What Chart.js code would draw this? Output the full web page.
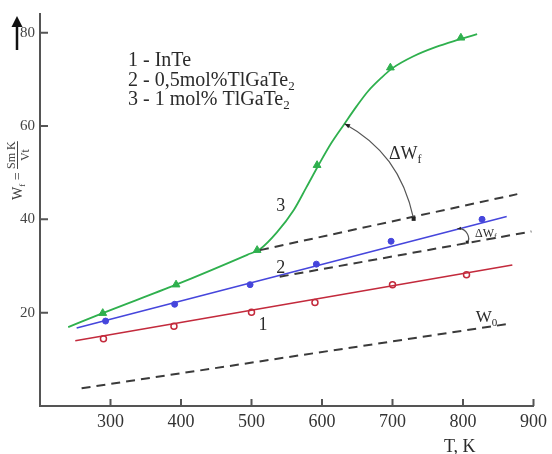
<!DOCTYPE html>
<html><head><meta charset="utf-8">
<script src="https://cdn.jsdelivr.net/npm/chart.js@4/dist/chart.umd.min.js"></script>
<style>html,body{margin:0;padding:0;background:#fff}</style>
</head><body>
<canvas id="c" width="552" height="454"></canvas>
<script>
// ---- data ----
const xTicks = [300, 400, 500, 600, 700, 800, 900];
const yTicks = [20, 40, 60, 80];

// 1 - InTe (measured points and straight fit line)
const inteT = [290, 390, 500, 590, 700, 805];
const inteW = [14.4, 17.1, 20.1, 22.2, 26.0, 28.1];
const inteFitT = [250, 870];
const inteFitW = [14.0, 30.2];

// 2 - 0,5 mol% TlGaTe2
const tl05T = [293, 391, 498, 592, 698, 827];
const tl05W = [18.2, 21.8, 26.0, 30.4, 35.3, 40.0];
const tl05FitT = [252, 862];
const tl05FitW = [16.7, 40.6];

// 3 - 1 mol% TlGaTe2
const tl1T = [289, 393, 508, 593, 697, 797];
const tl1W = [19.9, 26.0, 33.4, 51.6, 72.5, 78.9];
const tl1CurveT = [240, 289, 393, 494, 512, 536, 560, 578, 595, 613, 632, 649, 665, 684, 700, 729, 761, 796, 820];
const tl1CurveW = [16.9, 19.9, 26.0, 32.4, 33.6, 37.2, 42.0, 46.9, 51.6, 56.3, 60.5, 64.2, 67.4, 70.3, 72.4, 74.9, 76.9, 78.6, 79.7];

// dashed reference lines
const ext3T = [512, 877];
const ext3W = [33.4, 45.4];
const ext2T = [540, 897];
const ext2W = [27.7, 37.4];
const w0T = [259, 869];
const w0W = [3.8, 17.7];

const pts = (xs, ys) => xs.map((x, i) => ({ x: x, y: ys[i] }));

const GREEN = '#2fb04e', BLUE = '#4646dc', RED = '#c32a3c', DASH = '#3a3a3a';
const SERIF = "'Liberation Serif', 'DejaVu Serif', serif";

function dashed(xs, ys) {
  return { data: pts(xs, ys), showLine: true, borderColor: DASH, borderWidth: 2,
    borderDash: [9, 6], pointRadius: 0, fill: false };
}

function textSub(ctx, x, y, parts, size) {
  let cx = x;
  for (const [t, sub] of parts) {
    ctx.font = (sub ? Math.round(size * 0.65) : size) + 'px ' + SERIF;
    ctx.fillText(t, cx, sub ? y + size * 0.22 : y);
    cx += ctx.measureText(t).width;
  }
  return cx;
}

function arrowHead(ctx, from, to, size) {
  const a = Math.atan2(to[1] - from[1], to[0] - from[0]);
  ctx.save(); ctx.fillStyle = '#222';
  ctx.beginPath();
  ctx.moveTo(to[0], to[1]);
  ctx.lineTo(to[0] - size * Math.cos(a - 0.4), to[1] - size * Math.sin(a - 0.4));
  ctx.lineTo(to[0] - size * Math.cos(a + 0.4), to[1] - size * Math.sin(a + 0.4));
  ctx.closePath(); ctx.fill(); ctx.restore();
}

const decor = {
  id: 'decor',
  afterDraw(chart) {
    const ctx = chart.ctx, xs = chart.scales.x, ys = chart.scales.y;
    const ca = chart.chartArea;
    const X = v => xs.getPixelForValue(v), Y = v => ys.getPixelForValue(v);
    ctx.save();
    // inward tick marks
    ctx.strokeStyle = '#555'; ctx.lineWidth = 2;
    ctx.beginPath();
    for (const v of xTicks) { const px = X(v); ctx.moveTo(px, ca.bottom); ctx.lineTo(px, ca.bottom - 7); }
    for (const v of yTicks) { const py = Y(v); ctx.moveTo(ca.left, py); ctx.lineTo(ca.left + 8, py); }
    ctx.stroke();

    ctx.fillStyle = '#2a2a2a'; ctx.textBaseline = 'alphabetic'; ctx.textAlign = 'left';
    // legend block
    textSub(ctx, 128, 66, [['1 - InTe', false]], 20);
    textSub(ctx, 128, 86, [['2 - 0,5mol%TlGaTe', false], ['2', true]], 20);
    textSub(ctx, 128, 105, [['3 - 1 mol% TlGaTe', false], ['2', true]], 20);

    // curve labels
    ctx.font = '18px ' + SERIF;
    ctx.fillText('3', X(535), Y(41.8));
    ctx.fillText('2', X(535), Y(28.6));
    ctx.fillText('1', X(510), Y(16.2));
    textSub(ctx, X(818), Y(17.9), [['W', false], ['0', true]], 17);
    // x axis title
    ctx.font = '18px ' + SERIF;
    ctx.fillText('T, K', X(773), 452);

    // big delta W arrow
    ctx.strokeStyle = '#555'; ctx.lineWidth = 1.2;
    const p0 = [X(632), Y(60.5)], c1 = [X(684), Y(56.2)], c2 = [X(716), Y(49.9)], p3 = [X(730), Y(40.1)];
    ctx.beginPath(); ctx.moveTo(p0[0], p0[1]);
    ctx.bezierCurveTo(c1[0], c1[1], c2[0], c2[1], p3[0], p3[1]); ctx.stroke();
    arrowHead(ctx, c1, p0, 6);
    ctx.fillStyle = '#222'; ctx.fillRect(p3[0] - 2, p3[1] - 2, 4, 4);
    ctx.fillStyle = '#2a2a2a';
    textSub(ctx, X(695), Y(53.0), [['\u0394W', false], ['f', true]], 18);

    // small delta W arrow
    const q0 = [X(792), Y(38.0)], d1 = [X(806), Y(38.2)], d2 = [X(811), Y(35.9)], q3 = [X(806), Y(35.1)];
    ctx.beginPath(); ctx.moveTo(q0[0], q0[1]);
    ctx.bezierCurveTo(d1[0], d1[1], d2[0], d2[1], q3[0], q3[1]); ctx.stroke();
    arrowHead(ctx, d1, q0, 4);
    ctx.fillStyle = '#222'; ctx.fillRect(q3[0] - 1.5, q3[1] - 1.5, 3, 3);
    ctx.fillStyle = '#2a2a2a';
    textSub(ctx, X(817), Y(36.3), [['\u0394W', false], ['f', true]], 12);

    // up arrow, top-left
    ctx.strokeStyle = '#111'; ctx.fillStyle = '#111'; ctx.lineWidth = 2.5;
    ctx.beginPath(); ctx.moveTo(17, 50); ctx.lineTo(17, 25); ctx.stroke();
    ctx.beginPath(); ctx.moveTo(11.5, 27); ctx.lineTo(22.5, 27); ctx.lineTo(17, 16); ctx.closePath(); ctx.fill();

    // y axis title (rotated): W_f = Sm K / Vt
    ctx.save();
    ctx.translate(22, 200); ctx.rotate(-Math.PI / 2);
    ctx.fillStyle = '#444';
    let e = textSub(ctx, 0, 0, [['W', false], ['f', true], [' = ', false]], 14);
    ctx.font = '12px ' + SERIF;
    const nw = ctx.measureText('Sm K').width;
    ctx.fillText('Sm K', e, -7);
    const dw = ctx.measureText('Vt').width;
    ctx.fillText('Vt', e + (nw - dw) / 2, 7);
    ctx.strokeStyle = '#444'; ctx.lineWidth = 1;
    ctx.beginPath(); ctx.moveTo(e, -4.5); ctx.lineTo(e + nw, -4.5); ctx.stroke();
    ctx.restore();

    ctx.restore();
  }
};

new Chart(document.getElementById('c'), {
  type: 'scatter',
  data: {
    datasets: [
      dashed(w0T, w0W),
      dashed(ext3T, ext3W),
      dashed(ext2T, ext2W),
      { data: pts(inteFitT, inteFitW), showLine: true, borderColor: RED, borderWidth: 1.6, pointRadius: 0 },
      { data: pts(inteT, inteW), showLine: false, pointStyle: 'circle', pointRadius: 3,
        pointBackgroundColor: '#fff', pointBorderColor: RED, pointBorderWidth: 1.5 },
      { data: pts(tl05FitT, tl05FitW), showLine: true, borderColor: BLUE, borderWidth: 1.6, pointRadius: 0 },
      { data: pts(tl05T, tl05W), showLine: false, pointStyle: 'circle', pointRadius: 3,
        pointBackgroundColor: BLUE, pointBorderColor: BLUE, pointBorderWidth: 1 },
      { data: pts(tl1CurveT, tl1CurveW), showLine: true, borderColor: GREEN, borderWidth: 1.8,
        pointRadius: 0, cubicInterpolationMode: 'monotone' },
      { data: pts(tl1T, tl1W), showLine: false, pointStyle: 'triangle', pointRadius: 4.5,
        pointBackgroundColor: GREEN, pointBorderColor: GREEN, pointBorderWidth: 1 }
    ]
  },
  options: {
    responsive: false, animation: false, devicePixelRatio: 1,
    layout: { padding: { top: 8, right: 13, left: 0, bottom: 0 } },
    plugins: { legend: { display: false }, tooltip: { enabled: false } },
    scales: {
      x: {
        type: 'linear', min: 200, max: 900,
        afterBuildTicks: s => { s.ticks = xTicks.map(v => ({ value: v })); },
        afterFit: s => { s.height = 48; },
        ticks: { font: { family: SERIF, size: 18 }, color: '#333', padding: 5, maxRotation: 0, autoSkip: false },
        grid: { display: false, drawTicks: false },
        border: { display: true, color: '#555', width: 2 }
      },
      y: {
        type: 'linear', min: 0, max: 84,
        afterBuildTicks: s => { s.ticks = yTicks.map(v => ({ value: v })); },
        afterFit: s => { s.width = 40; },
        ticks: { font: { family: SERIF, size: 15 }, color: '#444', padding: 5, autoSkip: false },
        grid: { display: false, drawTicks: false },
        border: { display: true, color: '#555', width: 2 }
      }
    }
  },
  plugins: [decor]
});
</script>
</body></html>
